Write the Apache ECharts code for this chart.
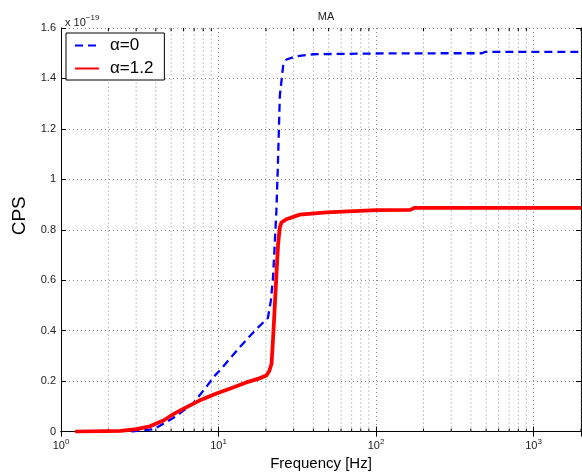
<!DOCTYPE html>
<html>
<head>
<meta charset="utf-8">
<script src="https://cdn.jsdelivr.net/npm/echarts@6/dist/echarts.min.js"></script>
<style>html,body{margin:0;padding:0;background:#fff}#c{width:582px;height:476px}</style>
</head>
<body>
<div id="c"></div>
<script>
// alpha = 0 (blue dashed)
const blueFreq = [2.8, 3.9, 5.15, 5.7, 6.9, 8.2, 9.5, 10.2, 13.6, 17, 20.6, 21.5, 22.2, 23.3, 23.8, 24.5, 25.7, 27, 31, 40, 100, 300, 470, 490, 2000];
const blueVal  = [0, 0.01, 0.054, 0.073, 0.112, 0.17, 0.223, 0.243, 0.334, 0.40, 0.451, 0.52, 0.614, 0.875, 1.05, 1.331, 1.449, 1.475, 1.488, 1.496, 1.499, 1.500, 1.500, 1.505, 1.505];
// alpha = 1.2 (red solid)
const redFreq = [1.23, 2.4, 3.0, 3.67, 4.5, 5.2, 6.1, 7.5, 9.7, 12, 15, 18, 20.1, 21.0, 21.7, 22.2, 22.7, 23.3, 23.9, 24.5, 25.1, 27, 32.8, 48.4, 100, 165, 175, 2000];
const redVal  = [0, 0.003, 0.01, 0.021, 0.045, 0.07, 0.093, 0.122, 0.151, 0.172, 0.195, 0.21, 0.222, 0.24, 0.269, 0.37, 0.484, 0.62, 0.745, 0.81, 0.829, 0.842, 0.86, 0.869, 0.878, 0.879, 0.887, 0.887];
const seriesNames = ['\u03b1=0', '\u03b1=1.2'];
const minorFreq = [];
[1, 10, 100, 1000].forEach(d => { for (let k = 2; k <= 9; k++) { if (d * k <= 2000) minorFreq.push(d * k); } });
const xMin = 1, xMax = 2000, yMin = 0, yMax = 1.6, yStep = 0.2;

const FONT = 'Liberation Sans, Arial, Helvetica, sans-serif';
const gridDot = { color: '#8a8a8a', type: [1, 3], width: 1 };

const chart = echarts.init(document.getElementById('c'), null, { renderer: 'canvas' });
chart.setOption({
  animation: false,
  backgroundColor: '#fff',
  title: [
    { text: 'MA', left: 321, top: 6, textAlign: 'center', textStyle: { fontFamily: FONT, fontSize: 11, fontWeight: 'normal', color: '#222' } },
    { text: 'x 10{s|\u221219}', left: 60, top: 9, textStyle: { fontFamily: FONT, fontSize: 11, fontWeight: 'normal', color: '#222', rich: { s: { fontFamily: FONT, fontSize: 8, verticalAlign: 'top', padding: [0, 0, 9, 0], color: '#222' } } } }
  ],
  legend: {
    left: 66, top: 33, orient: 'vertical',
    padding: [4, 11, 3, 8], itemGap: 6, itemWidth: 24, itemHeight: 16,
    borderColor: '#000', borderWidth: 1, backgroundColor: '#fff',
    itemStyle: { opacity: 0 },
    textStyle: { fontFamily: FONT, fontSize: 17, color: '#000', padding: [0, 0, 0, 6] },
    data: seriesNames
  },
  grid: { left: 61, right: 1, top: 28, bottom: 39, containLabel: false },
  xAxis: [
    {
      type: 'log', logBase: 10, min: xMin, max: xMax, position: 'bottom',
      name: 'Frequency [Hz]', nameLocation: 'middle', nameGap: 20,
      nameTextStyle: { fontFamily: FONT, fontSize: 15, color: '#000' },
      axisLine: { show: true, lineStyle: { color: '#000', width: 1 } },
      axisTick: { show: true, inside: true, length: 5, lineStyle: { color: '#000' } },
      axisLabel: {
        showMaxLabel: false, margin: 6,
        formatter: v => '{b|10}{s|' + Math.round(Math.log10(v)) + '}',
        rich: { b: { fontFamily: FONT, fontSize: 11, color: '#222' }, s: { fontFamily: FONT, fontSize: 8, color: '#222', verticalAlign: 'top', padding: [0, 0, 8, 0] } }
      },
      splitLine: { show: true, lineStyle: gridDot }
    },
    {
      type: 'log', logBase: 10, min: xMin, max: xMax, position: 'top',
      axisLine: { show: true, lineStyle: { color: '#000', width: 1 } },
      axisTick: { show: true, inside: true, length: 5, lineStyle: { color: '#000' } },
      axisLabel: { show: false }, splitLine: { show: false }
    }
  ],
  yAxis: [
    {
      type: 'value', min: yMin, max: yMax, interval: yStep, position: 'left',
      name: 'CPS', nameLocation: 'middle', nameGap: 32, nameRotate: 90,
      nameTextStyle: { fontFamily: FONT, fontSize: 19, color: '#000', padding: [0, 0, 0, 28] },
      axisLine: { show: true, lineStyle: { color: '#000', width: 1 } },
      axisTick: { show: true, inside: true, length: 5, lineStyle: { color: '#000' } },
      axisLabel: { fontFamily: FONT, fontSize: 11, color: '#222', margin: 5 },
      splitLine: { show: true, lineStyle: gridDot }
    },
    {
      type: 'value', min: yMin, max: yMax, interval: yStep, position: 'right',
      axisLine: { show: true, lineStyle: { color: '#000', width: 1 } },
      axisTick: { show: true, inside: true, length: 5, lineStyle: { color: '#000' } },
      axisLabel: { show: false }, splitLine: { show: false }
    }
  ],
  series: [
    {
      type: 'custom', silent: true, z: 1,
      data: minorFreq.map(v => [v]),
      renderItem: function (params, api) {
        const v = api.value(0);
        const b = api.coord([v, yMin]);
        const t = api.coord([v, yMax]);
        const dot = { stroke: '#8a8a8a', lineWidth: 1, lineDash: [1, 3] };
        const tk = { stroke: '#000', lineWidth: 1 };
        return { type: 'group', children: [
          { type: 'line', shape: { x1: b[0], y1: b[1], x2: t[0], y2: t[1] }, style: dot },
          { type: 'line', shape: { x1: b[0], y1: b[1], x2: b[0], y2: b[1] - 3 }, style: tk },
          { type: 'line', shape: { x1: t[0], y1: t[1], x2: t[0], y2: t[1] + 3 }, style: tk }
        ] };
      }
    },
    {
      name: seriesNames[0], type: 'line', symbol: 'none', z: 3,
      data: blueFreq.map((f, i) => [f, blueVal[i]]),
      lineStyle: { color: '#0000ff', width: 2.3, type: [8, 5] },
      itemStyle: { color: '#0000ff' }
    },
    {
      name: seriesNames[1], type: 'line', symbol: 'none', z: 4,
      data: redFreq.map((f, i) => [f, redVal[i]]),
      lineStyle: { color: '#ff0000', width: 3.8 },
      itemStyle: { color: '#ff0000' }
    }
  ]
});
</script>
</body>
</html>
